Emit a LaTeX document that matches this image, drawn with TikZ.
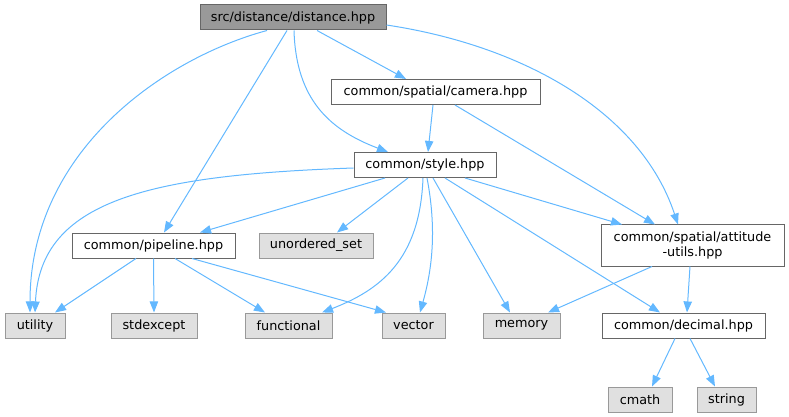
\documentclass[tikz,border=0pt]{standalone}
\usepackage{fontspec}
\setmainfont{DejaVu Sans}
\usetikzlibrary{arrows.meta,calc}
\definecolor{edgeblue}{HTML}{63B8FF}
\definecolor{rootfill}{HTML}{999999}
\definecolor{boxline}{HTML}{666666}
\definecolor{extfill}{HTML}{E0E0E0}
\definecolor{extline}{HTML}{999999}
\begin{document}
\begin{tikzpicture}[x=0.75pt,y=-0.75pt,
  box/.style={draw=boxline,line width=0.75pt,fill=white,inner sep=0pt,minimum height=18.75pt,
    font=\fontsize{9.6}{11.5}\selectfont,align=center,text=black},
  rootbox/.style={box,fill=rootfill},
  extbox/.style={box,draw=extline,fill=extfill},
  dep/.style={draw=edgeblue,line width=0.75pt,-{Triangle[length=8.3pt,width=6.3pt]}}]
\useasboundingbox (0,0) rectangle (789,417);
% nodes
\node[rootbox,minimum width=139.5pt] (dist) at (293,17.5) {src/distance/distance.hpp};
\node[box,minimum width=156.75pt] (cam) at (435.5,92) {common/spatial/camera.hpp};
\node[box,minimum width=106.5pt] (sty) at (425,165) {common/style.hpp};
\node[box,minimum width=122.25pt] (pipe) at (153.5,245.5) {common/pipeline.hpp};
\node[extbox,minimum width=85.5pt] (uset) at (316,245.5) {unordered\_set};
\node[box,minimum width=137.25pt,minimum height=30.75pt] (att) at (692.5,245.5) {common/spatial/attitude\\-utils.hpp};
\node[extbox,minimum width=45pt] (util) at (35,325.5) {utility};
\node[extbox,minimum width=64.5pt] (stdx) at (154,325.5) {stdexcept};
\node[extbox,minimum width=65.25pt] (func) at (288.5,325.5) {functional};
\node[extbox,minimum width=47.25pt] (vec) at (413.5,325.5) {vector};
\node[extbox,minimum width=57.75pt] (mem) at (521.5,325.5) {memory};
\node[box,minimum width=122.25pt] (dec) at (683.5,325.5) {common/decimal.hpp};
\node[extbox,minimum width=48pt] (cmath) at (640,399.5) {cmath};
\node[extbox,minimum width=44.25pt] (str) at (726.5,399.5) {string};
% edges from distance.hpp
\draw[dep] ($(dist.south)+(-26,0)$) .. controls (165,58) and (30,150) .. ($(util.north)+(-5,0)$);
\draw[dep] ($(dist.south)+(-6,0)$) -- ($(pipe.north)+(10.5,0)$);
\draw[dep] ($(dist.south)+(1,0)$) .. controls (296,100) and (330,130) .. ($(sty.north)+(-37,0)$);
\draw[dep] ($(dist.south)+(24,0)$) -- ($(cam.north)+(-29.5,0)$);
\draw[dep] ($(dist.east)+(0,7.5)$) .. controls (520,45) and (640,110) .. ($(att.north)+(-14.5,0)$);
% camera
\draw[dep] ($(cam.south)+(-2.5,0)$) -- ($(sty.north)+(3,0)$);
\draw[dep] ($(cam.south)+(19.5,0)$) -- ($(att.north)+(-37.5,0)$);
% style
\draw[dep] ($(sty.west)+(0,3)$) .. controls (150,175) and (40,200) .. (util.north);
\draw[dep] ($(sty.south)+(-40,0)$) -- ($(pipe.north)+(46.5,0)$);
\draw[dep] ($(sty.south)+(-17,0)$) -- ($(uset.north)+(21,0)$);
\draw[dep] ($(sty.south)+(-2,0)$) .. controls (420,260) and (380,290) .. ($(func.north)+(33.5,0)$);
\draw[dep] ($(sty.south)+(2,0)$) .. controls (437,230) and (432,270) .. ($(vec.north)+(6.5,0)$);
\draw[dep] ($(sty.south)+(8,0)$) -- ($(mem.north)+(-11.5,0)$);
\draw[dep] ($(sty.south)+(20,0)$) -- ($(dec.north)+(-23.5,0)$);
\draw[dep] ($(sty.south)+(40,0)$) -- ($(att.north)+(-70.5,0)$);
% pipeline
\draw[dep] ($(pipe.south)+(-17.5,0)$) -- ($(util.north)+(20,0)$);
\draw[dep] (pipe.south) -- (stdx.north);
\draw[dep] ($(pipe.south)+(21.5,0)$) -- ($(func.north)+(-23.5,0)$);
\draw[dep] ($(pipe.south)+(38.5,0)$) -- ($(vec.north)+(-27.5,0)$);
% attitude
\draw[dep] ($(att.south)+(-40.5,0)$) -- ($(mem.north)+(26.5,0)$);
\draw[dep] ($(att.south)+(-2.5,0)$) -- ($(dec.north)+(3.5,0)$);
% decimal
\draw[dep] ($(dec.south)+(-8.5,0)$) -- ($(cmath.north)+(12,0)$);
\draw[dep] ($(dec.south)+(6.5,0)$) -- ($(str.north)+(-11.5,0)$);
\end{tikzpicture}
\end{document}
